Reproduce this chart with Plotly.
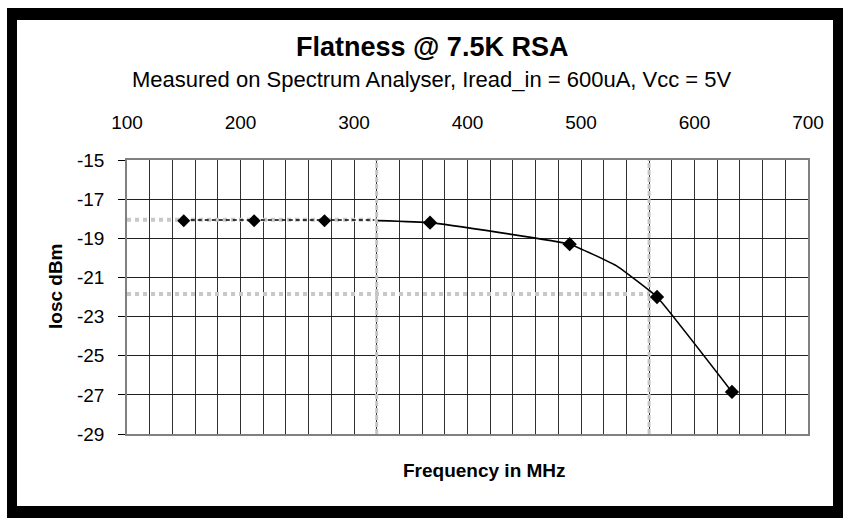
import plotly.graph_objects as go

# ---------------- data ----------------
x_ticks = [100, 200, 300, 400, 500, 600, 700]
y_ticks = [-15, -17, -19, -21, -23, -25, -27, -29]

flat_freq = [150, 212, 274]
flat_level = [-18.1, -18.1, -18.1]
flat_line_freq = [150, 212, 274, 318]
flat_line_level = [-18.07, -18.07, -18.07, -18.07]

roll_freq = [367, 490, 567, 633]
roll_level = [-18.2, -19.3, -22.0, -26.85]
roll_line_freq = [321, 367, 490, 531, 567, 633]
roll_line_level = [-18.1, -18.2, -19.3, -20.4, -22.0, -26.85]

ref_freq = [320, 560]
ref_level = [-18.05, -21.85]

# ---------------- geometry ----------------
W, H = 843, 524
L, R, T, B = 127, 808, 160, 434
FONT = "Arial, Liberation Sans, sans-serif"


def px(x):
    return (x - L) / (R - L)


def py(y):
    return 1 - (y - T) / (B - T)


fig = go.Figure()

# grey reference lines (horizontal dotted)
for f, lv in zip(ref_freq, ref_level):
    fig.add_trace(go.Scatter(
        x=[x_ticks[0], f], y=[lv, lv], mode="lines",
        line=dict(color="#c8c8c8", width=4, dash="4px,4px"),
        hoverinfo="skip", showlegend=False))
# grey reference lines (vertical dashed)
for f in ref_freq:
    fig.add_trace(go.Scatter(
        x=[f, f], y=[min(y_ticks), max(y_ticks)], mode="lines",
        line=dict(color="#c4c4c4", width=3, dash="5px,2px"),
        hoverinfo="skip", showlegend=False))

# flat part: dashed black line
fig.add_trace(go.Scatter(
    x=flat_line_freq, y=flat_line_level, mode="lines",
    line=dict(color="black", width=1.5, dash="4px,3px"),
    hoverinfo="skip", showlegend=False))
fig.add_trace(go.Scatter(
    x=flat_freq, y=flat_level, mode="markers",
    marker=dict(symbol="diamond", size=10, color="black"),
    showlegend=False))

# roll-off part: solid line
fig.add_trace(go.Scatter(
    x=roll_line_freq, y=roll_line_level, mode="lines",
    line=dict(color="black", width=1.6, shape="spline", smoothing=0.3),
    hoverinfo="skip", showlegend=False))
fig.add_trace(go.Scatter(
    x=roll_freq, y=roll_level, mode="markers",
    marker=dict(symbol="diamond", size=11, color="black"),
    showlegend=False))

shapes = []
# outer black frame
frame = [(7, 8, 841, 20), (7, 8, 17, 518), (833, 8, 843, 518), (7, 506, 843, 518)]
for x0, y0, x1, y1 in frame:
    shapes.append(dict(type="rect", xref="paper", yref="paper",
                       x0=px(x0), x1=px(x1), y0=py(y1), y1=py(y0),
                       fillcolor="black", line=dict(width=0), layer="above"))

annotations = [
    dict(text="<b>Flatness @ 7.5K RSA</b>", x=px(432), y=py(47),
         font=dict(size=27, color="black", family=FONT)),
    dict(text="Measured on Spectrum Analyser, Iread_in = 600uA, Vcc = 5V",
         x=px(432), y=py(80), font=dict(size=22, color="black", family=FONT)),
    dict(text="<b>Frequency in MHz</b>", x=px(484), y=py(470),
         font=dict(size=19, color="black", family=FONT)),
    dict(text="<b>Iosc dBm</b>", x=px(55), y=py(286), textangle=-90,
         font=dict(size=19, color="black", family=FONT)),
]
for a in annotations:
    a.update(xref="paper", yref="paper", showarrow=False,
             xanchor="center", yanchor="middle")

fig.update_layout(
    width=W, height=H, autosize=False,
    margin=dict(l=L, r=W - R, t=T, b=H - B, pad=0),
    paper_bgcolor="white", plot_bgcolor="white",
    font=dict(family=FONT, color="black"),
    shapes=shapes, annotations=annotations,
    xaxis=dict(
        side="top", range=[x_ticks[0], x_ticks[-1]],
        tickvals=x_ticks, ticktext=[str(v) for v in x_ticks],
        tickfont=dict(size=19, family=FONT, color="black"),
        ticks="", ticklabelstandoff=22,
        showgrid=True, gridcolor="#303030", gridwidth=1,
        minor=dict(dtick=20, tick0=100, showgrid=True,
                   gridcolor="#303030", gridwidth=1),
        showline=True, linecolor="#808080", linewidth=1.5, mirror=True,
        zeroline=False,
    ),
    yaxis=dict(
        range=[y_ticks[-1], y_ticks[0]],
        tickvals=y_ticks, ticktext=[str(v) for v in y_ticks],
        tickfont=dict(size=19, family=FONT, color="black"),
        ticks="outside", ticklen=7, tickcolor="black", tickwidth=1,
        ticklabelstandoff=10,
        showgrid=True, gridcolor="#202020", gridwidth=1,
        showline=True, linecolor="#808080", linewidth=1.5, mirror=True,
        zeroline=False,
    ),
)

fig.write_html(
    "out.html",
    config={"displayModeBar": False},
    post_script="document.body.style.margin='0';document.body.style.overflow='hidden';",
)
